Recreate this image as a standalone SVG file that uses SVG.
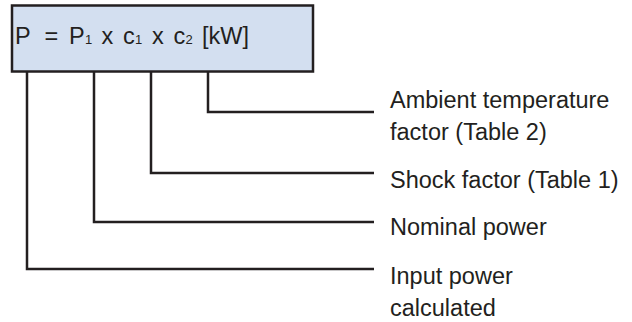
<svg xmlns="http://www.w3.org/2000/svg" width="632" height="322" viewBox="0 0 632 322">
  <style>
    .txt { font-family: "Liberation Sans", Arial, sans-serif; font-size: 23.5px; fill: #231f20; }
    .sub { font-size: 13px; }
    .box { fill: #d3dff0; stroke: #231f20; stroke-width: 2.5; }
    .wire { fill: none; stroke: #231f20; stroke-width: 2.5; stroke-linejoin: miter; stroke-linecap: butt; }
  </style>

  <!-- formula box -->
  <g id="formula">
    <rect class="box" x="12" y="5.5" width="301" height="66"/>
    <text class="txt" y="44">
      <tspan x="15">P</tspan>
      <tspan x="44.5">=</tspan>
      <tspan x="69">P</tspan><tspan class="sub" x="85">1</tspan>
      <tspan x="101.5">x</tspan>
      <tspan x="123">c</tspan><tspan class="sub" x="135">1</tspan>
      <tspan x="152">x</tspan>
      <tspan x="173.5">c</tspan><tspan class="sub" x="185.5">2</tspan>
      <tspan x="202">[kW]</tspan>
    </text>
  </g>

  <!-- leader lines from formula terms to their descriptions -->
  <g id="connectors">
    <polyline class="wire" points="208,71 208,112 374,112"/>
    <polyline class="wire" points="151,71 151,173 374,173"/>
    <polyline class="wire" points="94,71 94,222 374,222"/>
    <polyline class="wire" points="27,71 27,269 374,269"/>
  </g>

  <g id="label-c2">
    <text class="txt" x="390" y="108">Ambient temperature</text>
    <text class="txt" x="390" y="140">factor (Table 2)</text>
  </g>
  <g id="label-c1">
    <text class="txt" x="390" y="188">Shock factor (Table 1)</text>
  </g>
  <g id="label-p1">
    <text class="txt" x="390" y="235">Nominal power</text>
  </g>
  <g id="label-p">
    <text class="txt" x="390" y="284">Input power</text>
    <text class="txt" x="390" y="316">calculated</text>
  </g>
</svg>
